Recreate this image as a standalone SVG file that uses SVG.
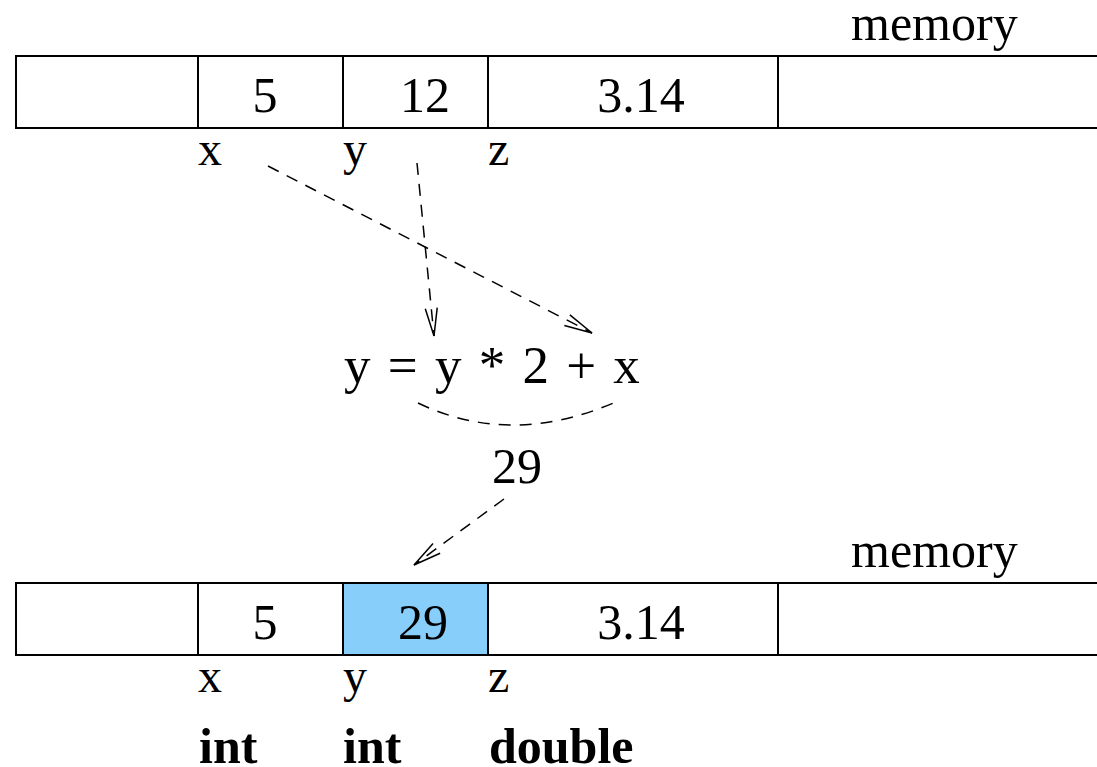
<svg xmlns="http://www.w3.org/2000/svg" width="1097" height="767" viewBox="0 0 1097 767">
<style>
  .cell{fill:#ffffff;stroke:#000000;stroke-width:2}
  .hl{fill:#87cefa;stroke:#000000;stroke-width:2}
  .t{font-family:"Liberation Serif","Times New Roman",serif;fill:#000000}
  .b{font-family:"Liberation Serif","Times New Roman",serif;font-weight:bold;fill:#000000}
  .dash{fill:none;stroke:#000000;stroke-width:1.5;stroke-dasharray:12 9}
</style>
<defs>
  <marker id="arr" markerUnits="userSpaceOnUse" markerWidth="40" markerHeight="20" viewBox="-32 -10 36 20" refX="0" refY="0" orient="auto">
    <path d="M-28,-6 L0,0 L-28,6" fill="none" stroke="#000000" stroke-width="1.5"/>
  </marker>
</defs>
<rect width="1097" height="767" fill="#ffffff"/>

<g id="memory-top">
  <text class="t" x="851" y="40" font-size="50">memory</text>
  <rect class="cell" x="16" y="56" width="182" height="72"/>
  <rect class="cell" x="198" y="56" width="145" height="72"/>
  <rect class="cell" x="343" y="56" width="145" height="72"/>
  <rect class="cell" x="488" y="56" width="290" height="72"/>
  <path d="M778,56 H1097 M778,128 H1097" stroke="#000000" stroke-width="2" fill="none"/>
  <text class="t" x="265" y="112" font-size="50" text-anchor="middle">5</text>
  <text class="t" x="425" y="112" font-size="50" text-anchor="middle">12</text>
  <text class="t" x="641" y="112" font-size="50" text-anchor="middle">3.14</text>
  <text class="t" x="198" y="165" font-size="48">x</text>
  <text class="t" x="343" y="165" font-size="48">y</text>
  <text class="t" x="488" y="165" font-size="48">z</text>
</g>

<g id="expression">
  <text class="t" x="344" y="383" font-size="53" word-spacing="4">y = y * 2 + x</text>
</g>

<g id="result">
  <text class="t" x="517" y="483" font-size="50" text-anchor="middle">29</text>
</g>

<g id="memory-bottom">
  <text class="t" x="851" y="567" font-size="50">memory</text>
  <rect class="cell" x="16" y="583" width="182" height="72"/>
  <rect class="cell" x="198" y="583" width="145" height="72"/>
  <rect class="hl" x="343" y="583" width="145" height="72"/>
  <rect class="cell" x="488" y="583" width="290" height="72"/>
  <path d="M778,583 H1097 M778,655 H1097" stroke="#000000" stroke-width="2" fill="none"/>
  <text class="t" x="265" y="639" font-size="50" text-anchor="middle">5</text>
  <text class="t" x="423" y="639" font-size="50" text-anchor="middle">29</text>
  <text class="t" x="641" y="639" font-size="50" text-anchor="middle">3.14</text>
  <text class="t" x="198" y="692" font-size="48">x</text>
  <text class="t" x="343" y="692" font-size="48">y</text>
  <text class="t" x="488" y="692" font-size="48">z</text>
  <text class="b" x="199" y="763" font-size="50">int</text>
  <text class="b" x="343" y="763" font-size="50">int</text>
  <text class="b" x="489" y="763" font-size="50">double</text>
</g>

<g id="connectors">
  <path class="dash" d="M268,166 L592,333" marker-end="url(#arr)"/>
  <path class="dash" d="M417,163 L434,336" marker-end="url(#arr)"/>
  <path class="dash" d="M418,403 Q512,448 618,401"/>
  <path class="dash" d="M504,499 L414,565" marker-end="url(#arr)"/>
</g>
</svg>
